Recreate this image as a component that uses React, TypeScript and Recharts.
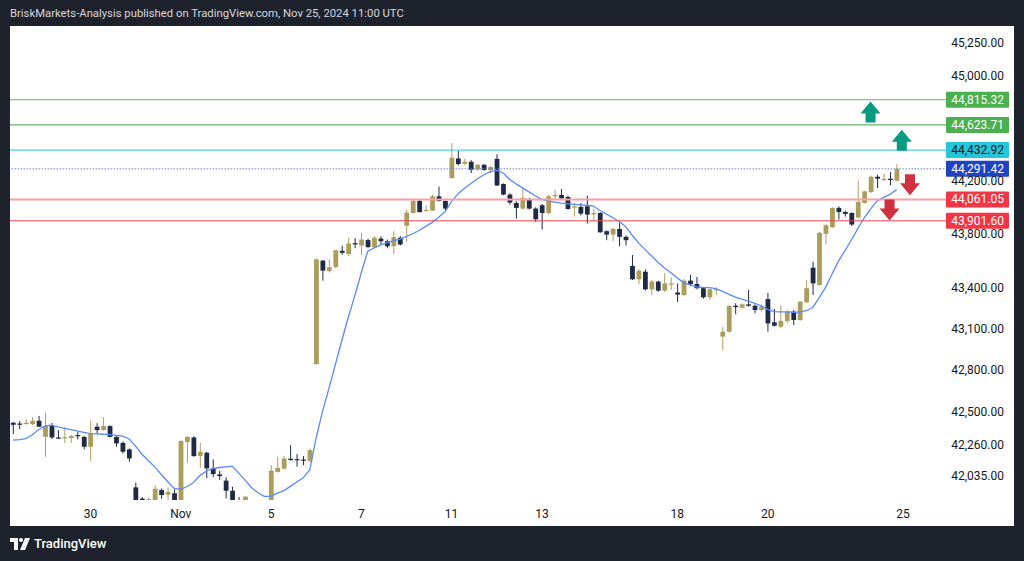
import React from "react";
import {
  Bar,
  ComposedChart,
  Line,
  ReferenceDot,
  ReferenceLine,
  XAxis,
  YAxis,
} from "recharts";

// candles, one per bar index
const opens = [
  42419, 42413, 42409, 42409, 42433, 42317, 42395, 42313, 42309, 42309,
  42330, 42317, 42246, 42390, 42366, 42395, 42317, 42274, 42227, 41955,
  41875, 41820, 41820, 41936, 41903, 41913, 41830, 42280, 42313, 42179,
  42203, 42091, 42048, 42003, 41931, 41850, 41840, 41840, 41810, 41840,
  41780, 42065, 42089, 42160, 42157, 42154, 42145, 42845, 43605, 43527,
  43557, 43678, 43654, 43735, 43717, 43758, 43704, 43769, 43749, 43712,
  43775, 43864, 43960, 44050, 43976, 43978, 44085, 44050, 44222, 44370,
  44330, 44345, 44287, 44322, 44283, 44367, 44177, 44098, 44035, 43993,
  44058, 43993, 44018, 43960, 44085, 44095, 44080, 44000, 44005, 44010,
  43950, 43960, 43824, 43799, 43841, 43782, 43566, 43467, 43523, 43393,
  43450, 43383, 43432, 43369, 43351, 43457, 43432, 43401, 43334, 43391,
  43045, 43081, 43272, 43257, 43282, 43272, 43240, 43321, 43150, 43118,
  43160, 43228, 43167, 43297, 43553, 43425, 43804, 43853, 43998, 43967,
  43960, 43926, 44035, 44117, 44232, 44212, 44217, 44202,
];
const highs = [
  42424, 42431, 42446, 42460, 42468, 42492, 42417, 42366, 42388, 42330,
  42353, 42322, 42434, 42415, 42458, 42400, 42322, 42284, 42234, 41989,
  41886, 41882, 41969, 41948, 41955, 41941, 42292, 42322, 42322, 42274,
  42210, 42155, 42074, 42027, 41960, 41886, 41892, 41855, 41850, 41855,
  42114, 42174, 42179, 42258, 42193, 42179, 42234, 43622, 43610, 43615,
  43684, 43715, 43774, 43774, 43812, 43769, 43787, 43787, 43762, 43824,
  43787, 43985, 44058, 44060, 44018, 44098, 44157, 44053, 44485, 44427,
  44367, 44357, 44327, 44327, 44312, 44402, 44182, 44108, 44048, 44152,
  44073, 44003, 44028, 44098, 44135, 44140, 44090, 44035, 44035, 44090,
  43990, 43965, 43831, 43849, 43887, 43792, 43647, 43541, 43541, 43462,
  43457, 43511, 43482, 43437, 43469, 43499, 43484, 43408, 43401, 43408,
  43118, 43277, 43290, 43290, 43388, 43282, 43282, 43366, 43248, 43277,
  43240, 43240, 43307, 43462, 43597, 43819, 43879, 44003, 44010, 43978,
  43965, 44202, 44127, 44240, 44247, 44257, 44267, 44327,
];
const lows = [
  42337, 42373, 42406, 42402, 42388, 42174, 42301, 42301, 42272, 42274,
  42299, 42227, 42145, 42342, 42361, 42313, 42246, 42198, 42138, 41760,
  41760, 41790, 41800, 41873, 41865, 41800, 41800, 42131, 42174, 42095,
  42020, 42027, 42008, 41877, 41800, 41760, 41800, 41780, 41760, 41740,
  41760, 42060, 42079, 42148, 42103, 42114, 42136, 42840, 43457, 43517,
  43549, 43649, 43638, 43697, 43647, 43697, 43697, 43725, 43697, 43652,
  43717, 43745, 43955, 43963, 43972, 43975, 44046, 43978, 44217, 44317,
  44317, 44260, 44277, 44277, 44260, 44163, 44093, 44023, 43918, 43985,
  43985, 43894, 43836, 43948, 44060, 44060, 43985, 43933, 43940, 43881,
  43898, 43812, 43757, 43750, 43712, 43717, 43462, 43432, 43383, 43351,
  43375, 43373, 43388, 43299, 43344, 43417, 43393, 43324, 43314, 43351,
  42945, 43074, 43209, 43250, 43265, 43216, 43228, 43081, 43118, 43106,
  43142, 43130, 43160, 43292, 43351, 43420, 43725, 43849, 43911, 43933,
  43862, 43918, 44030, 44110, 44147, 44197, 44167, 44197,
];
const closes = [
  42404, 42406, 42419, 42433, 42390, 42395, 42313, 42305, 42315, 42324,
  42322, 42246, 42342, 42366, 42395, 42317, 42270, 42210, 42162, 41800,
  41810, 41872, 41945, 41901, 41922, 41830, 42287, 42317, 42179, 42210,
  42091, 42050, 42036, 41931, 41840, 41800, 41889, 41820, 41840, 41800,
  42074, 42094, 42162, 42150, 42152, 42146, 42222, 43615, 43531, 43557,
  43682, 43663, 43732, 43730, 43762, 43706, 43775, 43749, 43712, 43780,
  43725, 43963, 44050, 43967, 43983, 44085, 44050, 43993, 44375, 44327,
  44345, 44285, 44322, 44283, 44305, 44166, 44098, 44038, 43998, 44073,
  43993, 43913, 43960, 44085, 44095, 44070, 43990, 44010, 43955, 43948,
  43960, 43816, 43799, 43841, 43782, 43757, 43467, 43531, 43393, 43450,
  43383, 43437, 43437, 43354, 43457, 43432, 43401, 43334, 43393, 43393,
  43081, 43270, 43262, 43282, 43272, 43240, 43265, 43142, 43125, 43160,
  43228, 43167, 43302, 43401, 43437, 43812, 43868, 43998, 43967, 43953,
  43874, 44043, 44122, 44232, 44217, 44217, 44207, 44291.42,
];
// moving average line, read at each bar
const ma = [
  42294, 42297, 42305, 42332, 42370, 42396, 42402, 42389, 42378, 42369,
  42359, 42349, 42341, 42339, 42336, 42333, 42328, 42322, 42302, 42251,
  42192, 42146, 42100, 42047, 41995, 41947, 41941, 41961, 41990, 42041,
  42072, 42089, 42097, 42102, 42107, 42057, 42005, 41952, 41917, 41890,
  41893, 41914, 41932, 41962, 41993, 42023, 42080, 42309, 42503, 42670,
  42845, 43020, 43189, 43347, 43517, 43675, 43699, 43722, 43739, 43752,
  43765, 43786, 43805, 43831, 43860, 43890, 43928, 43970, 44047, 44105,
  44145, 44181, 44217, 44247, 44270, 44280, 44260, 44212, 44178, 44148,
  44118, 44087, 44062, 44048, 44041, 44034, 44029, 44025, 44021, 44018,
  44012, 43979, 43952, 43924, 43897, 43858, 43794, 43735, 43687, 43640,
  43593, 43551, 43516, 43477, 43441, 43425, 43411, 43407, 43405, 43398,
  43377, 43355, 43335, 43320, 43305, 43290, 43271, 43243, 43229, 43227,
  43226, 43224, 43225, 43235, 43259, 43332, 43409, 43508, 43603, 43680,
  43760, 43845, 43926, 43993, 44051, 44077, 44101, 44135,
];

const dayTicks = [12, 26, 40, 54, 68, 82, 103, 117, 138];
const dayLabels = ["30", "Nov", "5", "7", "11", "13", "18", "20", "25"];
const priceTicks = [45250, 45000, 44200, 43800, 43400, 43100, 42800, 42500, 42260, 42035];

const levels = [44815.32, 44623.71, 44432.92, 44291.42, 44061.05, 43901.6];
const arrowBars = [132.95, 137.8, 139.07, 135.9];
const arrowPrices = [44722, 44507, 44172, 43983];
const arrowUp = [true, true, false, false];

const FONT = "Roboto, 'Liberation Sans', sans-serif";
const GOLD = "#ab9e5c";
const NAVY = "#1f2a44";
const TEXT = "#131722";

const levelStyle = [
  { line: "#5cb860", width: 1, dash: undefined, bg: "#4caf50", fg: "#ffffff" },
  { line: "#43a047", width: 1, dash: undefined, bg: "#4caf50", fg: "#ffffff" },
  { line: "#26c6da", width: 1, dash: undefined, bg: "#26c6da", fg: "#131722" },
  { line: "#5f7fdc", width: 1, dash: "1.5 1.5", bg: "#1e44c4", fg: "#ffffff" },
  { line: "#f7a0a5", width: 2, dash: undefined, bg: "#f23645", fg: "#ffffff" },
  { line: "#f0444f", width: 1, dash: undefined, bg: "#f23645", fg: "#ffffff" },
];

const data = opens.map((o, i) => ({
  t: i,
  open: o,
  high: highs[i],
  low: lows[i],
  close: closes[i],
  range: [lows[i], highs[i]],
  ma: ma[i],
}));

const fmt = (v: number) =>
  v.toLocaleString("en-US", { minimumFractionDigits: 2, maximumFractionDigits: 2 });

const Candle = (props: any) => {
  const { x, y, width, height, payload } = props;
  if (!payload || height == null) return null;
  const { open, close, high, low } = payload;
  const cx = x + width / 2;
  const lh = Math.log(high);
  const ll = Math.log(low);
  const py = (v: number) => y + (height * (lh - Math.log(v))) / (lh - ll);
  const color = close >= open ? GOLD : NAVY;
  const top = py(Math.max(open, close));
  const bot = py(Math.min(open, close));
  return (
    <g>
      <line x1={cx} x2={cx} y1={y} y2={y + height} stroke={color} strokeWidth={1} />
      <rect x={cx - 2.4} y={top} width={4.8} height={Math.max(bot - top, 1.2)} fill={color} />
    </g>
  );
};

const PriceTick = (props: any) => {
  const { x, y, payload } = props;
  return (
    <text x={x + 64} y={y} dy={4} textAnchor="end" fill={TEXT} fontSize={12} fontFamily={FONT}>
      {fmt(payload.value)}
    </text>
  );
};

const PriceBadge = (props: any) => {
  const { viewBox, value, idx } = props;
  if (!viewBox) return null;
  const st = levelStyle[idx];
  const right = viewBox.x + viewBox.width;
  const y = viewBox.y;
  return (
    <g>
      <line x1={right} x2={right + 6} y1={y} y2={y} stroke={st.line} strokeWidth={st.width} strokeDasharray={st.dash} />
      <rect x={right + 6} y={y - 8} width={63} height={16} rx={1} fill={st.bg} />
      <text x={right + 64} y={y} dy={4} textAnchor="end" fill={st.fg} fontSize={12} fontFamily={FONT}>
        {fmt(value)}
      </text>
    </g>
  );
};

const Arrow = (props: any) => {
  const { cx, cy, up } = props;
  if (cx == null || cy == null) return null;
  const s = up ? 1 : -1;
  const pts = [
    [0, -10.5],
    [10, 1.5],
    [5, 1.5],
    [5, 10.5],
    [-5, 10.5],
    [-5, 1.5],
    [-10, 1.5],
  ]
    .map(([dx, dy]) => `${cx + dx},${cy + s * dy}`)
    .join(" ");
  return <polygon points={pts} fill={up ? "#089981" : "#d0303f"} />;
};

const TvLogo = () => (
  <svg width={20} height={14} viewBox="0 0 20 14">
    <path d="M0 1h8v12H4V5H0z" fill="#fff" />
    <circle cx={11} cy={3} r={2} fill="#fff" />
    <path d="M15 1h5l-5 12h-5z" fill="#fff" />
  </svg>
);

export default function App() {
  return (
    <div
      style={{
        position: "fixed",
        left: 0,
        top: 0,
        width: 1024,
        height: 561,
        background: "#1e222d",
        fontFamily: FONT,
        overflow: "hidden",
      }}
    >
      <div
        style={{
          position: "absolute",
          left: 10,
          top: 6,
          color: "#d6d8de",
          fontSize: 11.3,
          lineHeight: "16px",
          whiteSpace: "nowrap",
        }}
      >
        BriskMarkets-Analysis published on TradingView.com, Nov 25, 2024 11:00 UTC
      </div>
      <div
        style={{
          position: "absolute",
          left: 10,
          top: 26,
          width: 1004,
          height: 500,
          background: "#ffffff",
        }}
      >
        <ComposedChart width={1004} height={500} data={data} margin={{ top: 0, right: 0, bottom: 0, left: 0 }}>
          <XAxis
            dataKey="t"
            type="number"
            domain={[-0.465, 143.72]}
            allowDataOverflow
            ticks={dayTicks}
            interval={0}
            tickFormatter={(v: number) => dayLabels[dayTicks.indexOf(v)] ?? ""}
            axisLine={false}
            tickLine={false}
            tickSize={0}
            tickMargin={9}
            height={26}
            tick={{ fill: TEXT, fontSize: 12, fontFamily: FONT }}
          />
          <YAxis
            orientation="right"
            scale="log"
            domain={[41865, 45381]}
            allowDataOverflow
            ticks={priceTicks}
            interval={0}
            width={74}
            axisLine={false}
            tickLine={false}
            tickSize={0}
            tickMargin={0}
            tick={<PriceTick />}
          />
          <Bar dataKey="range" barSize={5} shape={<Candle />} isAnimationActive={false} />
          <Line
            dataKey="ma"
            type="linear"
            stroke="#5b8af5"
            strokeWidth={1.3}
            dot={false}
            activeDot={false}
            isAnimationActive={false}
          />
          {levels.map((lv, i) => (
            <ReferenceLine
              key={lv}
              y={lv}
              stroke={levelStyle[i].line}
              strokeWidth={levelStyle[i].width}
              strokeDasharray={levelStyle[i].dash}
              label={<PriceBadge value={lv} idx={i} />}
            />
          ))}
          {arrowBars.map((b, i) => (
            <ReferenceDot
              key={i}
              x={b}
              y={arrowPrices[i]}
              r={0}
              shape={(p: any) => <Arrow cx={p.cx} cy={p.cy} up={arrowUp[i]} />}
            />
          ))}
        </ComposedChart>
      </div>
      <div
        style={{
          position: "absolute",
          left: 10,
          top: 536,
          display: "flex",
          alignItems: "center",
          gap: 4,
          color: "#ffffff",
          fontSize: 13,
          fontWeight: 500,
        }}
      >
        <TvLogo />
        <span>TradingView</span>
      </div>
    </div>
  );
}
